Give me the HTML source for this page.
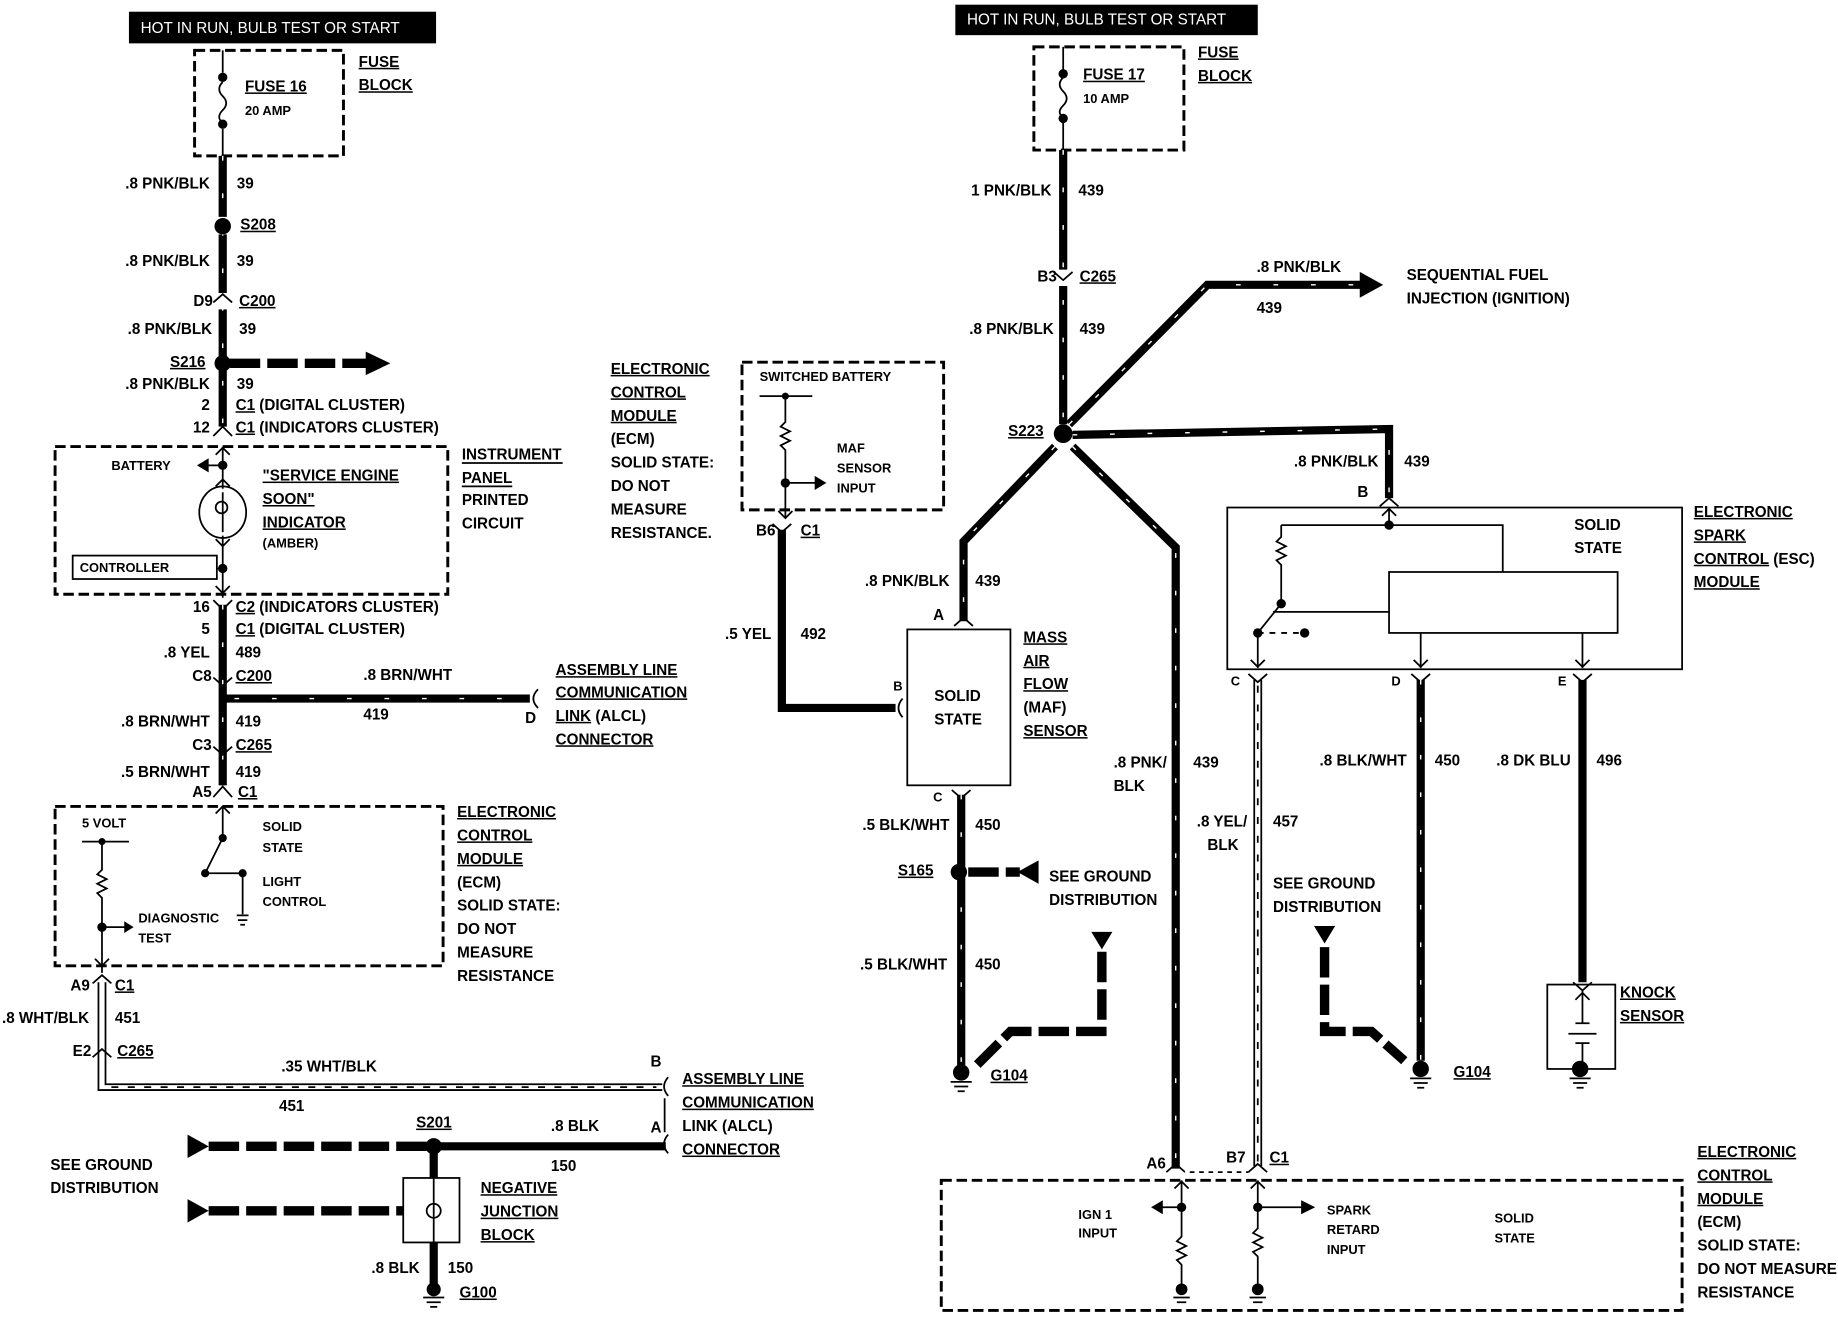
<!DOCTYPE html>
<html><head><meta charset="utf-8"><style>
html,body{margin:0;padding:0;background:#fff;width:1838px;height:1328px;overflow:hidden}
svg{display:block}
text{font-family:"Liberation Sans Narrow","Liberation Sans",sans-serif;font-weight:bold;font-size:13px;fill:#000}
.u{text-decoration:underline}
.s{font-size:11px}
.w{stroke:#000;stroke-width:7;fill:none}
.t{stroke:#000;stroke-width:1.5;fill:none}
.d{stroke:#000;stroke-width:2.5;fill:none;stroke-dasharray:9 4}
.dw{stroke:#000;stroke-width:8;fill:none;stroke-dasharray:26 6}
.h{stroke:#fff;stroke-width:1.2;fill:none;stroke-dasharray:4 28}
</style></head><body>
<svg width="1838" height="1328" viewBox="0 0 1568 1133" preserveAspectRatio="none" xmlns="http://www.w3.org/2000/svg">
<!-- LEFT -->
<rect x="110" y="10" width="262" height="27" fill="#000"/>
<text x="120" y="28" style="fill:#fff;font-family:'Liberation Sans',sans-serif;font-weight:normal;font-size:13px">HOT IN RUN, BULB TEST OR START</text>
<rect x="166" y="43" width="127" height="90" class="d"/>
<path d="M190 43V62M190 110V133M190 70q-6 6 0 12q6 6 0 12q-6 6 0 11" class="t"/>
<circle cx="190" cy="66" r="4"/><circle cx="190" cy="106" r="4"/>
<text x="209" y="78" class="u">FUSE 16</text><text x="209" y="98" class="s">20 AMP</text>
<text x="306" y="57" class="u">FUSE</text><text x="306" y="77" class="u">BLOCK</text>
<path d="M190 133V185M190 200V250M190 264V305M190 316V364" class="w"/>
<path d="M190 133V364" class="h"/>
<text x="179" y="161" text-anchor="end">.8 PNK/BLK</text><text x="202" y="161">39</text>
<circle cx="190" cy="193" r="7"/><text x="205" y="196" class="u">S208</text>
<text x="179" y="227" text-anchor="end">.8 PNK/BLK</text><text x="202" y="227">39</text>
<path d="M182 258l8-7 8 7" class="t" stroke-width="3.5"/>
<text x="165" y="261">D9</text><text x="204" y="261" class="u">C200</text>
<text x="181" y="285" text-anchor="end">.8 PNK/BLK</text><text x="204" y="285">39</text>
<circle cx="190" cy="310" r="7"/><text x="145" y="313" class="u">S216</text>
<path d="M196 310H318" class="dw"/><polygon points="312,300 333,310 312,320"/>
<text x="179" y="332" text-anchor="end">.8 PNK/BLK</text><text x="202" y="332">39</text>
<text x="179" y="350" text-anchor="end">2</text><text x="201" y="350"><tspan class="u">C1</tspan> (DIGITAL CLUSTER)</text>
<text x="179" y="369" text-anchor="end">12</text><text x="201" y="369"><tspan class="u">C1</tspan> (INDICATORS CLUSTER)</text>
<path d="M182 372l8-8 8 8" class="t" stroke-width="3.5"/>
<rect x="47" y="381" width="335" height="126" class="d"/>
<path d="M190 381V417M190 457V510M184 388l6-6 6 6M184 415l6-6 6 6M184 460l6 6 6-6M184 500l6 6 6-6M175 397H190" class="t"/>
<polygon points="168,397 178,391 178,403"/><circle cx="190" cy="397" r="4"/>
<ellipse cx="190" cy="437" rx="20" ry="22" class="t" stroke-width="2.5"/>
<path d="M190 420v34M184 433a5 5 0 1 1 10 0a5 5 0 0 1-10 0" class="t"/>
<text x="95" y="401" class="s">BATTERY</text>
<text x="224" y="410" class="u">"SERVICE ENGINE</text><text x="224" y="430" class="u">SOON"</text><text x="224" y="450" class="u">INDICATOR</text><text x="224" y="467" class="s">(AMBER)</text>
<rect x="62" y="474" width="123" height="20" class="t"/><text x="68" y="488" class="s">CONTROLLER</text>
<path d="M185 485H190" class="t"/><circle cx="190" cy="485" r="4"/>
<text x="394" y="392">INSTRUMENT</text><text x="394" y="412">PANEL</text><text x="394" y="431">PRINTED</text><text x="394" y="451">CIRCUIT</text>
<path d="M394 395H480M394 415H437" class="t"/>
<path d="M182 512l8 8 8-8" class="t" stroke-width="3.5"/>
<path d="M190 516V670" class="w"/><path d="M190 516V670" class="h"/>
<text x="179" y="522" text-anchor="end">16</text><text x="201" y="522"><tspan class="u">C2</tspan>  (INDICATORS CLUSTER)</text>
<text x="179" y="541" text-anchor="end">5</text><text x="201" y="541"><tspan class="u">C1</tspan>  (DIGITAL CLUSTER)</text>
<text x="179" y="561" text-anchor="end">.8 YEL</text><text x="201" y="561">489</text>
<text x="164" y="581">C8</text><text x="201" y="581" class="u">C200</text>
<path d="M182 578l8 7 8-7" class="t" stroke-width="3.5"/>
<path d="M190 596H452" class="w"/><path d="M200 596H452" class="h"/>
<path d="M459 588q-8 8 0 16" class="t" stroke-width="3"/>
<text x="310" y="580">.8 BRN/WHT</text><text x="310" y="614">419</text><text x="448" y="617">D</text>
<text x="474" y="576" class="u">ASSEMBLY LINE</text><text x="474" y="595" class="u">COMMUNICATION</text><text x="474" y="615"><tspan class="u">LINK</tspan> (ALCL)</text><text x="474" y="635" class="u">CONNECTOR</text>
<text x="179" y="620" text-anchor="end">.8 BRN/WHT</text><text x="201" y="620">419</text>
<text x="164" y="640">C3</text><text x="201" y="640" class="u">C265</text>
<path d="M182 637l8 7 8-7" class="t" stroke-width="3.5"/>
<text x="179" y="663" text-anchor="end">.5 BRN/WHT</text><text x="201" y="663">419</text>
<text x="164" y="680">A5</text><text x="203" y="680" class="u">C1</text>
<path d="M182 680l8-9 8 9" class="t" stroke-width="3.5"/>
<rect x="47" y="688" width="331" height="136" class="d"/>
<path d="M184 694l6-6 6 6M190 688V715L175 745M175 745h30M207 745V780M202 781h10M203 785h8M205 789h4" class="t"/>
<circle cx="190" cy="715" r="3.5"/><circle cx="175" cy="745" r="3.5"/><circle cx="207" cy="745" r="3.5"/>
<text x="70" y="706" class="s">5 VOLT</text>
<path d="M70 718H110M87 718V742l-4 4 8 4-8 4 8 4-8 4 4 4V830M87 791H107M81 818l6 6 6-6" class="t"/>
<circle cx="87" cy="718" r="3"/><circle cx="87" cy="791" r="4"/><polygon points="106,786 114,791 106,796"/>
<text x="118" y="787" class="s">DIAGNOSTIC</text><text x="118" y="804" class="s">TEST</text>
<text x="224" y="709" class="s">SOLID</text><text x="224" y="727" class="s">STATE</text><text x="224" y="756" class="s">LIGHT</text><text x="224" y="773" class="s">CONTROL</text>
<text x="390" y="697" class="u">ELECTRONIC</text><text x="390" y="717" class="u">CONTROL</text><text x="390" y="737" class="u">MODULE</text><text x="390" y="757">(ECM)</text><text x="390" y="777">SOLID STATE:</text><text x="390" y="797">DO NOT</text><text x="390" y="817">MEASURE</text><text x="390" y="837">RESISTANCE</text>
<path d="M79 839l8-7 8 7" class="t" stroke-width="3"/>
<path d="M84 838V930H565M90 838V925H565" class="t" stroke-width="2"/>
<path d="M95 927.5H560" class="t" stroke-dasharray="6 8"/>
<text x="60" y="845">A9</text><text x="98" y="845" class="u">C1</text>
<text x="76" y="873" text-anchor="end">.8 WHT/BLK</text><text x="98" y="873">451</text>
<text x="62" y="901">E2</text><text x="100" y="901" class="u">C265</text>
<path d="M79 902l8-7 8 7" class="t" stroke-width="3"/>
<text x="240" y="914">.35 WHT/BLK</text><text x="238" y="948">451</text><text x="555" y="910">B</text>
<path d="M570 919q-7 8 0 16M570 968q-7 8 0 16M567 937V966" class="t" stroke-width="2"/>
<polygon points="160,968 178,978 160,988"/>
<path d="M178 978H370" class="dw"/><path d="M370 978H568M370 978V1005M370 1060V1095" class="w"/>
<circle cx="370" cy="978" r="7"/>
<text x="355" y="962" class="u">S201</text><text x="470" y="965">.8 BLK</text><text x="555" y="966">A</text><text x="470" y="999">150</text>
<text x="43" y="998">SEE GROUND</text><text x="43" y="1018">DISTRIBUTION</text>
<polygon points="160,1023 178,1033 160,1043"/><path d="M178 1033H344" class="dw"/>
<rect x="344" y="1005" width="48" height="55" class="t" stroke-width="2.5"/>
<path d="M370 1005V1060" class="t"/><circle cx="370" cy="1033" r="6" fill="#fff" class="t" stroke-width="2"/>
<text x="410" y="1018" class="u">NEGATIVE</text><text x="410" y="1038" class="u">JUNCTION</text><text x="410" y="1058" class="u">BLOCK</text>
<text x="358" y="1086" text-anchor="end">.8 BLK</text><text x="382" y="1086">150</text>
<circle cx="370" cy="1100" r="6"/><path d="M361 1107h18M364 1111h12M367 1115h6" class="t" stroke-width="2"/>
<text x="392" y="1107" class="u">G100</text>
<text x="582" y="925" class="u">ASSEMBLY LINE</text><text x="582" y="945" class="u">COMMUNICATION</text><text x="582" y="965">LINK (ALCL)</text><text x="582" y="985" class="u">CONNECTOR</text>

<!-- MIDDLE -->
<text x="521" y="319" class="u">ELECTRONIC</text><text x="521" y="339" class="u">CONTROL</text><text x="521" y="359" class="u">MODULE</text><text x="521" y="379">(ECM)</text><text x="521" y="399">SOLID STATE:</text><text x="521" y="419">DO NOT</text><text x="521" y="439">MEASURE</text><text x="521" y="459">RESISTANCE.</text>
<rect x="633" y="309" width="172" height="126" class="d"/>
<text x="648" y="325" class="s">SWITCHED BATTERY</text>
<path d="M648 338H693M670 338V360l-4 4 8 4-8 4 8 4-8 4 4 4V441M670 412H697M664 436l6 6 6-6" class="t"/>
<circle cx="670" cy="338" r="3"/><circle cx="670" cy="412" r="4"/><polygon points="695,406 705,412 695,418"/>
<text x="714" y="386" class="s">MAF</text><text x="714" y="403" class="s">SENSOR</text><text x="714" y="420" class="s">INPUT</text>
<path d="M659 447l8 7 8-7" class="t" stroke-width="3.5"/>
<path d="M667 452V604H764" class="w"/>
<path d="M770 596q-7 8 0 16" class="t" stroke-width="3"/>
<text x="645" y="457">B6</text><text x="683" y="457" class="u">C1</text>
<text x="658" y="545" text-anchor="end">.5 YEL</text><text x="683" y="545">492</text>

<!-- RIGHT -->
<rect x="815" y="4" width="258" height="26" fill="#000"/>
<text x="825" y="21" style="fill:#fff;font-family:'Liberation Sans',sans-serif;font-weight:normal;font-size:13px">HOT IN RUN, BULB TEST OR START</text>
<rect x="882" y="40" width="128" height="88" class="d"/>
<path d="M907 40V60M907 104V128M907 66q-6 6 0 12q6 6 0 12q-6 6 0 10" class="t"/>
<circle cx="907" cy="63" r="4"/><circle cx="907" cy="101" r="4"/>
<text x="924" y="68" class="u">FUSE 17</text><text x="924" y="88" class="s">10 AMP</text>
<text x="1022" y="49" class="u">FUSE</text><text x="1022" y="69" class="u">BLOCK</text>
<path d="M907 128V230M907 244V362" class="w"/><path d="M907 128V362" class="h"/>
<path d="M899 232l8 7 8-7" class="t" stroke-width="3.5"/>
<text x="897" y="167" text-anchor="end">1 PNK/BLK</text><text x="920" y="167">439</text>
<text x="885" y="240">B3</text><text x="921" y="240" class="u">C265</text>
<text x="899" y="285" text-anchor="end">.8 PNK/BLK</text><text x="921" y="285">439</text>
<circle cx="907" cy="370" r="8"/><text x="860" y="372" class="u">S223</text>
<path d="M912 362L1030 243H1162" class="w"/><path d="M912 362L1030 243H1162" class="h"/>
<polygon points="1160,232 1180,243 1160,254"/>
<text x="1072" y="232">.8 PNK/BLK</text><text x="1072" y="267">439</text>
<text x="1200" y="239">SEQUENTIAL FUEL</text><text x="1200" y="259">INJECTION (IGNITION)</text>
<path d="M915 371L1185 366V425" class="w"/><path d="M915 371L1185 366V425" class="h"/>
<text x="1176" y="398" text-anchor="end">.8 PNK/BLK</text><text x="1198" y="398">439</text><text x="1158" y="424">B</text>
<path d="M1177 432l8-7 8 7" class="t" stroke-width="3.5"/>
<path d="M900 381L822 462V530" class="w"/><path d="M900 381L822 462V530" class="h"/>
<path d="M814 534l8-7 8 7" class="t" stroke-width="3.5"/>
<text x="810" y="500" text-anchor="end">.8 PNK/BLK</text><text x="832" y="500">439</text><text x="796" y="529">A</text>
<path d="M915 381L1003 467V997" class="w"/><path d="M915 381L1003 467V997" class="h"/>
<text x="950" y="655">.8 PNK/</text><text x="950" y="675">BLK</text><text x="1018" y="655">439</text>
<rect x="774" y="537" width="88" height="133" class="t" stroke-width="2.5"/>
<text x="797" y="598">SOLID</text><text x="797" y="618">STATE</text>
<text x="762" y="589" class="s">B</text><text x="796" y="684" class="s">C</text>
<text x="873" y="548" class="u">MASS</text><text x="873" y="568" class="u">AIR</text><text x="873" y="588" class="u">FLOW</text><text x="873" y="608">(MAF)</text><text x="873" y="628" class="u">SENSOR</text>
<path d="M812 674l8 7 8-7" class="t" stroke-width="3.5"/>
<path d="M820 678V912" class="w"/><path d="M820 678V912" class="h"/>
<text x="810" y="708" text-anchor="end">.5 BLK/WHT</text><text x="832" y="708">450</text>
<circle cx="818" cy="744" r="7"/><text x="766" y="747" class="u">S165</text>
<path d="M826 744H870" class="dw"/><polygon points="868,744 886,734 886,754"/>
<text x="895" y="752">SEE GROUND</text><text x="895" y="772">DISTRIBUTION</text>
<text x="808" y="827" text-anchor="end">.5 BLK/WHT</text><text x="832" y="827">450</text>
<polygon points="931,795 949,795 940,810"/>
<path d="M940 812V880H862L832 910" class="dw"/>
<circle cx="820" cy="915" r="7"/><path d="M811 923h18M814 927h12M817 931h6" class="t" stroke-width="2"/>
<text x="845" y="922" class="u">G104</text>
<!-- ESC -->
<rect x="1047" y="433" width="388" height="138" class="t" stroke-width="2.5"/>
<text x="1343" y="452">SOLID</text><text x="1343" y="472">STATE</text>
<rect x="1185" y="488" width="195" height="52" class="t"/>
<path d="M1185 433V448M1179 440l6-6 6 6M1093 448H1282V488M1093 448V458l-4 4 8 4-8 4 8 4-8 4 4 4V515L1073 540M1086 522H1185M1073 540h40M1073 540V570M1067 563l6 6 6-6M1212 540V570M1206 563l6 6 6-6M1350 540V570M1344 563l6 6 6-6" class="t"/>
<path d="M1078 540h35" stroke="#fff" stroke-width="2" stroke-dasharray="5 5"/>
<circle cx="1185" cy="448" r="4"/><circle cx="1093" cy="515" r="4"/><circle cx="1073" cy="540" r="4"/><circle cx="1113" cy="540" r="4"/>
<text x="1445" y="441" class="u">ELECTRONIC</text><text x="1445" y="461" class="u">SPARK</text><text x="1445" y="481"><tspan class="u">CONTROL</tspan> (ESC)</text><text x="1445" y="501" class="u">MODULE</text>
<text x="1050" y="585" class="s">C</text><text x="1187" y="585" class="s">D</text><text x="1329" y="585" class="s">E</text>
<path d="M1065 575l8 7 8-7M1204 575l8 7 8-7M1342 575l8 7 8-7" class="t" stroke-width="3.5"/>
<path d="M1070 580V995M1076 580V995" class="t" stroke-width="2"/>
<path d="M1073 585V995" class="t" stroke-dasharray="6 10"/>
<text x="1064" y="705" text-anchor="end">.8 YEL/</text><text x="1030" y="725">BLK</text><text x="1086" y="705">457</text>
<path d="M1212 580V905M1350 580V838" class="w"/><path d="M1212 580V905" class="h"/>
<text x="1200" y="653" text-anchor="end">.8 BLK/WHT</text><text x="1224" y="653">450</text>
<text x="1340" y="653" text-anchor="end">.8 DK BLU</text><text x="1362" y="653">496</text>
<text x="1086" y="758">SEE GROUND</text><text x="1086" y="778">DISTRIBUTION</text>
<polygon points="1121,790 1139,790 1130,805"/>
<path d="M1130 808V880H1170L1198 905" class="dw"/>
<circle cx="1212" cy="912" r="7"/><path d="M1203 920h18M1206 924h12M1209 928h6" class="t" stroke-width="2"/>
<text x="1240" y="919" class="u">G104</text>
<rect x="1320" y="840" width="58" height="72" class="t" stroke-width="2.5"/>
<path d="M1342 838l8 7 8-7" class="t" stroke-width="3.5"/>
<path d="M1350 845V873M1344 873h12M1338 882h24M1344 890h12M1350 890V912M1344 853l6-6 6 6" class="t"/>
<circle cx="1348" cy="912" r="7"/><path d="M1339 920h18M1342 924h12M1345 928h6" class="t" stroke-width="2"/>
<text x="1382" y="851" class="u">KNOCK</text><text x="1382" y="871" class="u">SENSOR</text>
<!-- bottom ECM -->
<text x="978" y="997">A6</text><text x="1046" y="992">B7</text><text x="1083" y="992" class="u">C1</text>
<path d="M995 1000l8-7 8 7M1065 1000l8-7 8 7M1011 1000H1065" class="t" stroke-width="3"/>
<path d="M1011 1000H1065" stroke="#fff" stroke-width="3" stroke-dasharray="4 4"/>
<rect x="803" y="1007" width="632" height="111" class="d"/>
<path d="M1008 1007V1055l-4 4 8 4-8 4 8 4-8 4 4 4V1098M1002 1014l6-6 6 6M990 1030H1008M1073 1007V1048l-4 4 8 4-8 4 8 4-8 4 4 4V1098M1067 1014l6-6 6 6M1073 1030H1112" class="t"/>
<circle cx="1008" cy="1030" r="4"/><circle cx="1073" cy="1030" r="4"/>
<polygon points="982,1030 992,1024 992,1036"/><polygon points="1110,1024 1122,1030 1110,1036"/>
<circle cx="1008" cy="1100" r="5"/><circle cx="1073" cy="1100" r="5"/>
<path d="M1001 1107h14M1004 1111h8M1066 1107h14M1069 1111h8" class="t" stroke-width="2"/>
<text x="920" y="1040" class="s">IGN 1</text><text x="920" y="1056" class="s">INPUT</text>
<text x="1132" y="1036" class="s">SPARK</text><text x="1132" y="1053" class="s">RETARD</text><text x="1132" y="1070" class="s">INPUT</text>
<text x="1275" y="1043" class="s">SOLID</text><text x="1275" y="1060" class="s">STATE</text>
<text x="1448" y="987" class="u">ELECTRONIC</text><text x="1448" y="1007" class="u">CONTROL</text><text x="1448" y="1027" class="u">MODULE</text><text x="1448" y="1047">(ECM)</text><text x="1448" y="1067">SOLID STATE:</text><text x="1448" y="1087">DO NOT MEASURE</text><text x="1448" y="1107">RESISTANCE</text>
</svg>
</body></html>
